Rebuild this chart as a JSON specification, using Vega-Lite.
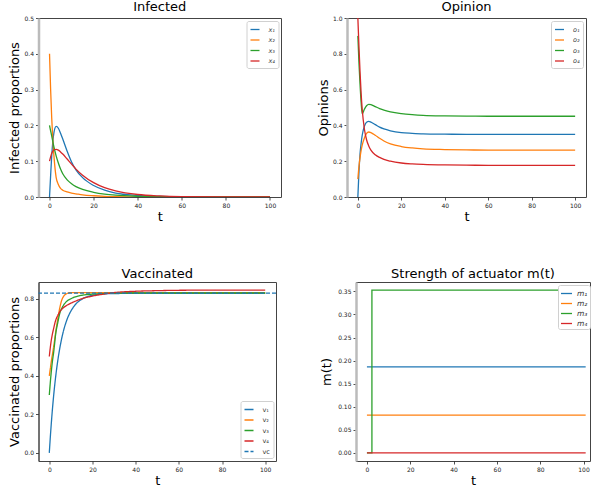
{
"$schema": "https://vega.github.io/schema/vega-lite/v6.json",
"padding": {"left": 7.5, "top": 0, "right": 0, "bottom": 0},
"config": {
  "font": "DejaVu Sans",
  "view": {"stroke": "#444", "strokeWidth": 1},
  "axis": {"grid": false, "labelFontSize": 6, "labelColor": "#222", "tickColor": "#222", "tickSize": 3, "tickWidth": 0.8, "labelPadding": 2, "titleFontSize": 13, "titleFontWeight": "normal", "titleColor": "#000", "domainColor": "#444", "domainWidth": 1, "labelFont": "DejaVu Sans", "titleFont": "DejaVu Sans"},
  "axisX": {"domain": false, "titlePadding": 2},
  "title": {"fontSize": 13, "fontWeight": "normal", "baseline": "alphabetic", "offset": 1, "font": "DejaVu Sans", "color": "#000"},
  "legend": {"symbolType": "stroke", "symbolStrokeWidth": 1.3, "labelFontSize": 6.5, "labelFont": "DejaVu Sans", "labelColor": "#333", "fillColor": "white", "strokeColor": "#d0d0d0", "padding": 3, "cornerRadius": 2, "rowPadding": 1.5, "symbolSize": 81, "labelOffset": 8},
  "line": {"strokeWidth": 1.3, "interpolate": "monotone"}
},
"resolve": {"scale": {"color": "independent", "strokeDash": "independent"}, "legend": {"color": "independent", "strokeDash": "independent"}},
"datasets": {
  "inf": [
    {"s":"x₁","t":0,"y":0},{"s":"x₁","t":0.5,"y":0.06},{"s":"x₁","t":1,"y":0.115},{"s":"x₁","t":1.5,"y":0.155},{"s":"x₁","t":2,"y":0.18},{"s":"x₁","t":3,"y":0.197},{"s":"x₁","t":4,"y":0.192},{"s":"x₁","t":5,"y":0.178},{"s":"x₁","t":6,"y":0.162},{"s":"x₁","t":8,"y":0.128},{"s":"x₁","t":10,"y":0.098},{"s":"x₁","t":12,"y":0.076},{"s":"x₁","t":15,"y":0.054},{"s":"x₁","t":20,"y":0.032},{"s":"x₁","t":25,"y":0.019},{"s":"x₁","t":30,"y":0.011},{"s":"x₁","t":40,"y":0.0045},{"s":"x₁","t":50,"y":0.0018},{"s":"x₁","t":60,"y":0.0007},{"s":"x₁","t":80,"y":0.0001},{"s":"x₁","t":100,"y":0},
    {"s":"x₂","t":0,"y":0.4},{"s":"x₂","t":0.5,"y":0.3},{"s":"x₂","t":1,"y":0.22},{"s":"x₂","t":1.5,"y":0.16},{"s":"x₂","t":2,"y":0.115},{"s":"x₂","t":3,"y":0.055},{"s":"x₂","t":4,"y":0.035},{"s":"x₂","t":5,"y":0.024},{"s":"x₂","t":6,"y":0.019},{"s":"x₂","t":8,"y":0.014},{"s":"x₂","t":10,"y":0.011},{"s":"x₂","t":12,"y":0.009},{"s":"x₂","t":15,"y":0.006},{"s":"x₂","t":20,"y":0.0035},{"s":"x₂","t":25,"y":0.002},{"s":"x₂","t":30,"y":0.0012},{"s":"x₂","t":40,"y":0.0005},{"s":"x₂","t":50,"y":0.0002},{"s":"x₂","t":60,"y":0.0001},{"s":"x₂","t":80,"y":0},{"s":"x₂","t":100,"y":0},
    {"s":"x₃","t":0,"y":0.2},{"s":"x₃","t":0.5,"y":0.185},{"s":"x₃","t":1,"y":0.17},{"s":"x₃","t":1.5,"y":0.155},{"s":"x₃","t":2,"y":0.14},{"s":"x₃","t":3,"y":0.115},{"s":"x₃","t":4,"y":0.095},{"s":"x₃","t":5,"y":0.078},{"s":"x₃","t":6,"y":0.065},{"s":"x₃","t":8,"y":0.048},{"s":"x₃","t":10,"y":0.037},{"s":"x₃","t":12,"y":0.029},{"s":"x₃","t":15,"y":0.021},{"s":"x₃","t":20,"y":0.013},{"s":"x₃","t":25,"y":0.008},{"s":"x₃","t":30,"y":0.005},{"s":"x₃","t":40,"y":0.002},{"s":"x₃","t":50,"y":0.0008},{"s":"x₃","t":60,"y":0.0003},{"s":"x₃","t":80,"y":0},{"s":"x₃","t":100,"y":0},
    {"s":"x₄","t":0,"y":0.1},{"s":"x₄","t":0.5,"y":0.112},{"s":"x₄","t":1,"y":0.122},{"s":"x₄","t":1.5,"y":0.128},{"s":"x₄","t":2,"y":0.132},{"s":"x₄","t":3,"y":0.133},{"s":"x₄","t":4,"y":0.131},{"s":"x₄","t":5,"y":0.126},{"s":"x₄","t":6,"y":0.12},{"s":"x₄","t":8,"y":0.106},{"s":"x₄","t":10,"y":0.092},{"s":"x₄","t":12,"y":0.078},{"s":"x₄","t":15,"y":0.061},{"s":"x₄","t":20,"y":0.04},{"s":"x₄","t":25,"y":0.026},{"s":"x₄","t":30,"y":0.017},{"s":"x₄","t":40,"y":0.007},{"s":"x₄","t":50,"y":0.003},{"s":"x₄","t":60,"y":0.0012},{"s":"x₄","t":80,"y":0.0002},{"s":"x₄","t":100,"y":0}
  ],
  "op": [
    {"s":"o₁","t":0,"y":0},{"s":"o₁","t":0.5,"y":0.14},{"s":"o₁","t":1,"y":0.24},{"s":"o₁","t":1.5,"y":0.3},{"s":"o₁","t":2,"y":0.345},{"s":"o₁","t":3,"y":0.395},{"s":"o₁","t":4,"y":0.418},{"s":"o₁","t":5,"y":0.422},{"s":"o₁","t":6,"y":0.418},{"s":"o₁","t":8,"y":0.404},{"s":"o₁","t":10,"y":0.39},{"s":"o₁","t":12,"y":0.38},{"s":"o₁","t":15,"y":0.37},{"s":"o₁","t":20,"y":0.36},{"s":"o₁","t":25,"y":0.356},{"s":"o₁","t":30,"y":0.353},{"s":"o₁","t":40,"y":0.351},{"s":"o₁","t":50,"y":0.35},{"s":"o₁","t":60,"y":0.35},{"s":"o₁","t":80,"y":0.35},{"s":"o₁","t":100,"y":0.35},
    {"s":"o₂","t":0,"y":0.1},{"s":"o₂","t":0.5,"y":0.17},{"s":"o₂","t":1,"y":0.22},{"s":"o₂","t":1.5,"y":0.26},{"s":"o₂","t":2,"y":0.29},{"s":"o₂","t":3,"y":0.33},{"s":"o₂","t":4,"y":0.355},{"s":"o₂","t":5,"y":0.363},{"s":"o₂","t":6,"y":0.36},{"s":"o₂","t":8,"y":0.345},{"s":"o₂","t":10,"y":0.328},{"s":"o₂","t":12,"y":0.313},{"s":"o₂","t":15,"y":0.297},{"s":"o₂","t":20,"y":0.282},{"s":"o₂","t":25,"y":0.274},{"s":"o₂","t":30,"y":0.269},{"s":"o₂","t":40,"y":0.265},{"s":"o₂","t":50,"y":0.263},{"s":"o₂","t":60,"y":0.262},{"s":"o₂","t":80,"y":0.262},{"s":"o₂","t":100,"y":0.262},
    {"s":"o₃","t":0,"y":0.9},{"s":"o₃","t":0.5,"y":0.75},{"s":"o₃","t":1,"y":0.63},{"s":"o₃","t":1.5,"y":0.53},{"s":"o₃","t":2,"y":0.465},{"s":"o₃","t":3,"y":0.49},{"s":"o₃","t":4,"y":0.51},{"s":"o₃","t":5,"y":0.518},{"s":"o₃","t":6,"y":0.516},{"s":"o₃","t":8,"y":0.505},{"s":"o₃","t":10,"y":0.494},{"s":"o₃","t":12,"y":0.486},{"s":"o₃","t":15,"y":0.476},{"s":"o₃","t":20,"y":0.466},{"s":"o₃","t":25,"y":0.46},{"s":"o₃","t":30,"y":0.456},{"s":"o₃","t":40,"y":0.453},{"s":"o₃","t":50,"y":0.452},{"s":"o₃","t":60,"y":0.451},{"s":"o₃","t":80,"y":0.451},{"s":"o₃","t":100,"y":0.451},
    {"s":"o₄","t":0,"y":1.0},{"s":"o₄","t":0.5,"y":0.84},{"s":"o₄","t":1,"y":0.7},{"s":"o₄","t":1.5,"y":0.58},{"s":"o₄","t":2,"y":0.49},{"s":"o₄","t":3,"y":0.38},{"s":"o₄","t":4,"y":0.32},{"s":"o₄","t":5,"y":0.285},{"s":"o₄","t":6,"y":0.262},{"s":"o₄","t":8,"y":0.236},{"s":"o₄","t":10,"y":0.221},{"s":"o₄","t":12,"y":0.21},{"s":"o₄","t":15,"y":0.2},{"s":"o₄","t":20,"y":0.19},{"s":"o₄","t":25,"y":0.185},{"s":"o₄","t":30,"y":0.182},{"s":"o₄","t":40,"y":0.179},{"s":"o₄","t":50,"y":0.178},{"s":"o₄","t":60,"y":0.177},{"s":"o₄","t":80,"y":0.177},{"s":"o₄","t":100,"y":0.177}
  ],
  "vac": [
    {"s":"v₁","t":0,"y":0},{"s":"v₁","t":0.5,"y":0.086},{"s":"v₁","t":1,"y":0.163},{"s":"v₁","t":1.5,"y":0.233},{"s":"v₁","t":2,"y":0.295},{"s":"v₁","t":3,"y":0.4},{"s":"v₁","t":4,"y":0.484},{"s":"v₁","t":5,"y":0.552},{"s":"v₁","t":6,"y":0.607},{"s":"v₁","t":8,"y":0.686},{"s":"v₁","t":10,"y":0.736},{"s":"v₁","t":12,"y":0.769},{"s":"v₁","t":15,"y":0.797},{"s":"v₁","t":20,"y":0.818},{"s":"v₁","t":25,"y":0.825},{"s":"v₁","t":30,"y":0.827},{"s":"v₁","t":40,"y":0.828},{"s":"v₁","t":50,"y":0.828},{"s":"v₁","t":60,"y":0.828},{"s":"v₁","t":80,"y":0.828},{"s":"v₁","t":100,"y":0.828},
    {"s":"v₂","t":0,"y":0.4},{"s":"v₂","t":0.5,"y":0.44},{"s":"v₂","t":1,"y":0.48},{"s":"v₂","t":1.5,"y":0.515},{"s":"v₂","t":2,"y":0.55},{"s":"v₂","t":3,"y":0.63},{"s":"v₂","t":4,"y":0.7},{"s":"v₂","t":5,"y":0.76},{"s":"v₂","t":6,"y":0.8},{"s":"v₂","t":8,"y":0.826},{"s":"v₂","t":10,"y":0.832},{"s":"v₂","t":12,"y":0.832},{"s":"v₂","t":15,"y":0.832},{"s":"v₂","t":20,"y":0.832},{"s":"v₂","t":25,"y":0.832},{"s":"v₂","t":30,"y":0.832},{"s":"v₂","t":40,"y":0.832},{"s":"v₂","t":50,"y":0.832},{"s":"v₂","t":60,"y":0.832},{"s":"v₂","t":80,"y":0.832},{"s":"v₂","t":100,"y":0.832},
    {"s":"v₃","t":0,"y":0.3},{"s":"v₃","t":0.5,"y":0.37},{"s":"v₃","t":1,"y":0.43},{"s":"v₃","t":1.5,"y":0.48},{"s":"v₃","t":2,"y":0.52},{"s":"v₃","t":3,"y":0.62},{"s":"v₃","t":4,"y":0.68},{"s":"v₃","t":5,"y":0.73},{"s":"v₃","t":6,"y":0.755},{"s":"v₃","t":8,"y":0.786},{"s":"v₃","t":10,"y":0.8},{"s":"v₃","t":12,"y":0.81},{"s":"v₃","t":15,"y":0.818},{"s":"v₃","t":20,"y":0.824},{"s":"v₃","t":25,"y":0.827},{"s":"v₃","t":30,"y":0.829},{"s":"v₃","t":40,"y":0.83},{"s":"v₃","t":50,"y":0.83},{"s":"v₃","t":60,"y":0.83},{"s":"v₃","t":80,"y":0.83},{"s":"v₃","t":100,"y":0.83},
    {"s":"v₄","t":0,"y":0.5},{"s":"v₄","t":0.5,"y":0.55},{"s":"v₄","t":1,"y":0.59},{"s":"v₄","t":1.5,"y":0.62},{"s":"v₄","t":2,"y":0.645},{"s":"v₄","t":3,"y":0.69},{"s":"v₄","t":4,"y":0.715},{"s":"v₄","t":5,"y":0.735},{"s":"v₄","t":6,"y":0.748},{"s":"v₄","t":8,"y":0.765},{"s":"v₄","t":10,"y":0.777},{"s":"v₄","t":12,"y":0.787},{"s":"v₄","t":15,"y":0.8},{"s":"v₄","t":20,"y":0.814},{"s":"v₄","t":25,"y":0.824},{"s":"v₄","t":30,"y":0.832},{"s":"v₄","t":40,"y":0.839},{"s":"v₄","t":50,"y":0.842},{"s":"v₄","t":60,"y":0.844},{"s":"v₄","t":80,"y":0.845},{"s":"v₄","t":100,"y":0.845}
  ],
  "vc": [{"s":"vc","y":0.829}],
  "m": [
    {"s":"m₁","i":0,"t":0,"y":0.1866},{"s":"m₁","i":1,"t":101,"y":0.1866},
    {"s":"m₂","i":0,"t":0,"y":0.0818},{"s":"m₂","i":1,"t":101,"y":0.0818},
    {"s":"m₃","i":0,"t":0,"y":0},{"s":"m₃","i":1,"t":2.3,"y":0},{"s":"m₃","i":2,"t":2.3,"y":0.3528},{"s":"m₃","i":3,"t":101,"y":0.3528},
    {"s":"m₄","i":0,"t":0,"y":0},{"s":"m₄","i":1,"t":101,"y":0}
  ]
},
"spacing": 43,
"vconcat": [
  {"spacing": 34.5,
   "resolve": {"scale": {"color": "independent"}, "legend": {"color": "independent"}},
   "hconcat": [
    {"width": 242.5, "height": 179, "title": "Infected",
     "data": {"name": "inf"},
     "mark": {"type": "line", "clip": true},
     "encoding": {
       "x": {"field": "t", "type": "quantitative", "scale": {"domain": [-5, 105], "nice": false, "zero": false}, "axis": {"title": "t", "values": [0,20,40,60,80,100]}},
       "y": {"field": "y", "type": "quantitative", "scale": {"domain": [0, 0.5], "nice": false}, "axis": {"title": "Infected proportions", "values": [0,0.1,0.2,0.3,0.4,0.5], "format": ".1f", "titlePadding": 2.5, "domainColor": "#bbb", "domainWidth": 2.5}},
       "color": {"field": "s", "type": "nominal", "scale": {"domain": ["x₁","x₂","x₃","x₄"], "range": ["#1f77b4","#ff7f0e","#2ca02c","#d62728"]}, "legend": {"title": null, "orient": "top-right", "offset": 3, "labelFontStyle": "italic"}}
     }},
    {"width": 239, "height": 179, "title": "Opinion",
     "data": {"name": "op"},
     "mark": {"type": "line", "clip": true},
     "encoding": {
       "x": {"field": "t", "type": "quantitative", "scale": {"domain": [-5, 105], "nice": false, "zero": false}, "axis": {"title": "t", "values": [0,20,40,60,80,100]}},
       "y": {"field": "y", "type": "quantitative", "scale": {"domain": [0, 1], "nice": false}, "axis": {"title": "Opinions", "values": [0,0.2,0.4,0.6,0.8,1.0], "format": ".1f", "titlePadding": 2, "domainColor": "#bbb", "domainWidth": 2.5}},
       "color": {"field": "s", "type": "nominal", "scale": {"domain": ["o₁","o₂","o₃","o₄"], "range": ["#1f77b4","#ff7f0e","#2ca02c","#d62728"]}, "legend": {"title": null, "orient": "top-right", "offset": 3, "labelFontStyle": "italic"}}
     }}
  ]},
  {"spacing": 42.5,
   "resolve": {"scale": {"color": "independent", "strokeDash": "independent"}, "legend": {"color": "independent", "strokeDash": "independent"}},
   "hconcat": [
    {"width": 237.5, "height": 179, "title": "Vaccinated",
     "layer": [
       {"data": {"name": "vac"},
        "mark": {"type": "line", "clip": true},
        "encoding": {
          "x": {"field": "t", "type": "quantitative", "scale": {"domain": [-5, 105], "nice": false, "zero": false}, "axis": {"title": "t", "values": [0,20,40,60,80,100]}},
          "y": {"field": "y", "type": "quantitative", "scale": {"domain": [-0.0423, 0.887], "nice": false, "zero": false}, "axis": {"title": "Vaccinated proportions", "values": [0,0.2,0.4,0.6,0.8], "format": ".1f", "titlePadding": 2.5}},
          "color": {"field": "s", "type": "nominal", "scale": {"domain": ["v₁","v₂","v₃","v₄","vc"], "range": ["#1f77b4","#ff7f0e","#2ca02c","#d62728","#1f77b4"]}, "legend": {"title": null, "orient": "bottom-right", "offset": 3}},
          "strokeDash": {"field": "s", "type": "nominal", "scale": {"domain": ["v₁","v₂","v₃","v₄","vc"], "range": [[1,0],[1,0],[1,0],[1,0],[4,2]]}, "legend": {"title": null, "orient": "bottom-right", "offset": 3}}
        }},
       {"data": {"name": "vc"},
        "mark": {"type": "rule", "strokeWidth": 1.3},
        "encoding": {
          "y": {"field": "y", "type": "quantitative"},
          "color": {"field": "s", "type": "nominal"},
          "strokeDash": {"field": "s", "type": "nominal"}
        }}
     ]},
    {"width": 234, "height": 179, "title": "Strength of actuator m(t)",
     "data": {"name": "m"},
     "mark": {"type": "line", "clip": true, "interpolate": "linear"},
     "encoding": {
       "x": {"field": "t", "type": "quantitative", "scale": {"domain": [-5.05, 103], "nice": false, "zero": false}, "axis": {"title": "t", "values": [0,20,40,60,80,100]}},
       "y": {"field": "y", "type": "quantitative", "scale": {"domain": [-0.0176, 0.3704], "nice": false, "zero": false}, "axis": {"title": "m(t)", "values": [0,0.05,0.1,0.15,0.2,0.25,0.3,0.35], "format": ".2f", "titlePadding": 4, "domainColor": "#bbb", "domainWidth": 2.5}},
       "order": {"field": "i", "type": "quantitative"},
       "color": {"field": "s", "type": "nominal", "scale": {"domain": ["m₁","m₂","m₃","m₄"], "range": ["#1f77b4","#ff7f0e","#2ca02c","#d62728"]}, "legend": {"title": null, "orient": "none", "legendX": 202, "legendY": 3, "labelFontStyle": "italic", "labelFontSize": 7.5, "symbolSize": 121, "labelOffset": 4, "rowPadding": 0, "padding": 2}}
     }}
  ]}
]
}
